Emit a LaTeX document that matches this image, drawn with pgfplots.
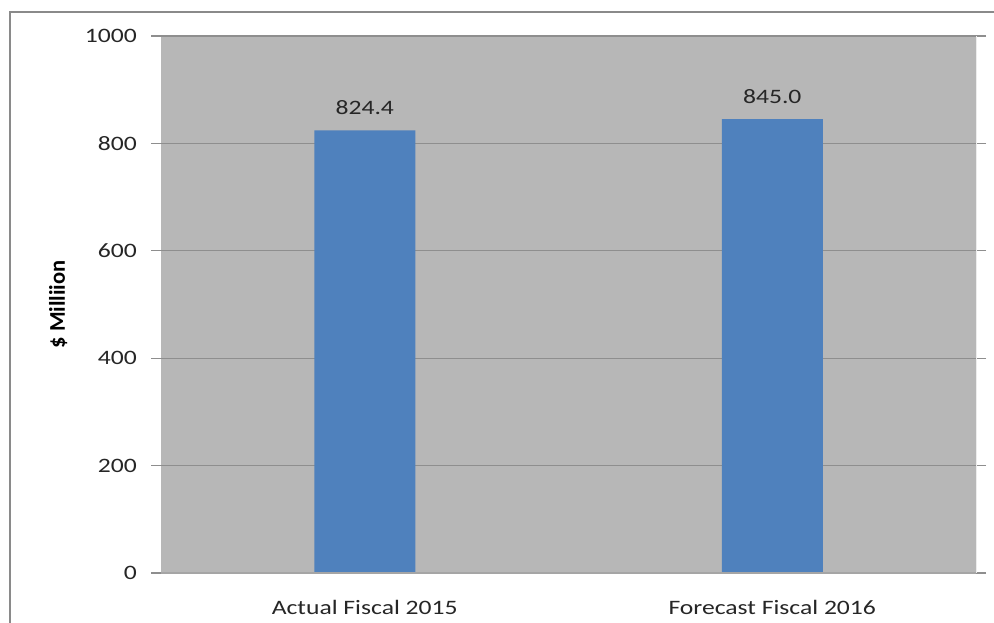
\documentclass[border=0pt]{standalone}
\usepackage{fontspec}
\setmainfont{Carlito}[FakeStretch=1.25]
\newfontfamily\ylabfont{Carlito}
\usepackage{pgfplots}
\pgfplotsset{compat=1.18}
\definecolor{plotbg}{HTML}{B7B7B7}
\definecolor{gridc}{HTML}{8E8E8E}
\definecolor{barblue}{HTML}{4F81BD}
\definecolor{framec}{HTML}{8A8A8A}
\definecolor{txt}{HTML}{262626}
\begin{document}
\begin{tikzpicture}
\useasboundingbox (-161bp,-50bp) rectangle (833bp,573bp);
\draw[framec, line width=1.6bp] (-151bp,-50bp) -- (-151bp,561bp) -- (833bp,561bp);
\begin{axis}[
  at={(0,0)}, anchor=south west,
  scale only axis, width=815bp, height=537bp,
  xmin=0.5, xmax=2.5, ymin=0, ymax=1000,
  ytick={0,200,400,600,800,1000},
  xtick={1,2},
  xticklabels={Actual Fiscal 2015, Forecast Fiscal 2016},
  axis background/.style={fill=plotbg},
  axis line style={draw=none},
  ymajorgrids, grid style={gridc, line width=1.2bp},
  tick align=outside,
  major tick length=10bp,
  ytick style={gridc, line width=1.2bp},
  xtick style={draw=none},
  /pgf/number format/assume math mode=true,
  /pgf/number format/1000 sep={},
  tick label style={font=\fontsize{20.5bp}{24bp}\selectfont, text=txt},
  yticklabel style={anchor=east, inner sep=0pt, xshift=-14bp},
  xticklabel style={anchor=base, inner sep=0pt, yshift=-31bp},
  ylabel={\ylabfont\bfseries \$ Milliion},
  ylabel style={font=\fontsize{22.5bp}{26bp}\selectfont, text=black},
  ylabel shift=14bp,
  ybar, bar width=101bp,
  nodes near coords={\pgfmathprintnumber[fixed,fixed zerofill,precision=1]{\pgfplotspointmeta}},
  every node near coord/.append style={font=\fontsize{20.5bp}{24bp}\selectfont, text=txt, anchor=center, yshift=23bp},
  clip=false,
]
\addplot[fill=barblue, draw=none] coordinates {(1,824.4) (2,845.0)};
\draw[color=gridc!80!white, line width=1.6bp] (axis cs:0.5,0) -- (axis cs:2.5,0);
\draw[color=white!85!gray, line width=1bp] (axis cs:2.5,0) -- (axis cs:2.5,1000);
\end{axis}
\end{tikzpicture}
\end{document}
